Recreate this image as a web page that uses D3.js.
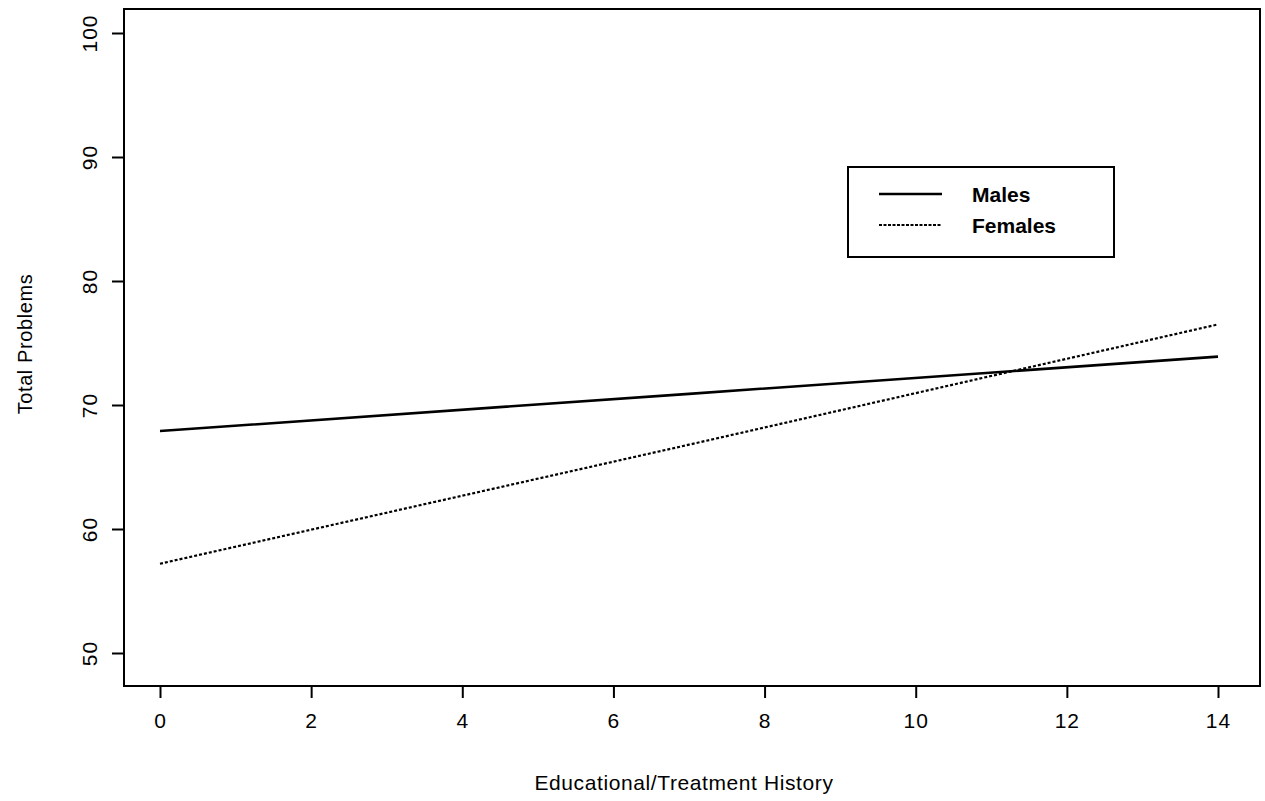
<!DOCTYPE html>
<html>
<head>
<meta charset="utf-8">
<script src="https://cdn.jsdelivr.net/npm/d3@7"></script>
<style>
  html, body { margin: 0; padding: 0; background: #fff; }
  svg { display: block; }
  text { font-family: "Liberation Sans", Arial, sans-serif; fill: #000; }
</style>
</head>
<body>
<svg id="chart" width="1265" height="801"></svg>
<script>
// ---- data ----
const xTicks = [0, 2, 4, 6, 8, 10, 12, 14];
const yTicks = [50, 60, 70, 80, 90, 100];
const historyX = [0, 7, 14];
const malesY = [67.9, 70.9, 73.9];
const femalesY = [57.2, 66.8, 76.5];
const seriesNames = ["Males", "Females"];
const xTitle = "Educational/Treatment History";
const yTitle = "Total Problems";

// ---- layout ----
const svg = d3.select("#chart");
const box = { left: 124, top: 9, right: 1260, bottom: 686 };

const x = d3.scaleLinear().domain([0, 14]).range([160, 1218]);
const y = d3.scaleLinear().domain([50, 100]).range([653, 33]);

// plot frame
svg.append("rect")
  .attr("x", box.left).attr("y", box.top)
  .attr("width", box.right - box.left).attr("height", box.bottom - box.top)
  .attr("fill", "none").attr("stroke", "#000").attr("stroke-width", 2);

// x axis
const xAxis = d3.axisBottom(x).tickValues(xTicks).tickSize(12).tickPadding(15)
  .tickFormat(d3.format("d"));
const gx = svg.append("g").attr("transform", `translate(0,${box.bottom})`).call(xAxis);
gx.select(".domain").remove();
gx.selectAll(".tick line").attr("stroke", "#000").attr("stroke-width", 2);
gx.selectAll(".tick text").attr("font-size", 21).attr("letter-spacing", 1)
  .attr("font-family", "Liberation Sans, Arial, sans-serif");

// y axis
const yAxis = d3.axisLeft(y).tickValues(yTicks).tickSize(12).tickPadding(0)
  .tickFormat(d3.format("d"));
const gy = svg.append("g").attr("transform", `translate(${box.left},0)`).call(yAxis);
gy.select(".domain").remove();
gy.selectAll(".tick line").attr("stroke", "#000").attr("stroke-width", 2);
gy.selectAll(".tick text")
  .attr("font-size", 21).attr("letter-spacing", 1)
  .attr("font-family", "Liberation Sans, Arial, sans-serif")
  .attr("x", 0).attr("dy", 0)
  .attr("text-anchor", "middle")
  .attr("transform", "translate(-27,0) rotate(-90)");

// axis titles
svg.append("text")
  .attr("x", 684).attr("y", 790)
  .attr("text-anchor", "middle").attr("font-size", 21).attr("letter-spacing", 0.6)
  .text(xTitle);
svg.append("text")
  .attr("transform", `translate(32,${344}) rotate(-90)`)
  .attr("text-anchor", "middle").attr("font-size", 20).attr("letter-spacing", 0.6)
  .text(yTitle);

// lines
const line = d3.line().x(d => x(d[0])).y(d => y(d[1]));
svg.append("path")
  .datum(historyX.map((v, i) => [v, malesY[i]]))
  .attr("d", line).attr("fill", "none").attr("stroke", "#000").attr("stroke-width", 2.6);
svg.append("path")
  .datum(historyX.map((v, i) => [v, femalesY[i]]))
  .attr("d", line).attr("fill", "none").attr("stroke", "#000").attr("stroke-width", 2.2)
  .attr("stroke-dasharray", "3,2");

// legend
const lg = svg.append("g");
lg.append("rect").attr("x", 848).attr("y", 167).attr("width", 266).attr("height", 90)
  .attr("fill", "#fff").attr("stroke", "#000").attr("stroke-width", 2);
const dashes = [null, "3,1.5"];
const widths = [2.5, 1.8];
seriesNames.forEach((name, i) => {
  const yy = 194 + i * 31;
  lg.append("line").attr("x1", 879).attr("x2", 942).attr("y1", yy).attr("y2", yy)
    .attr("stroke", "#000").attr("stroke-width", widths[i])
    .attr("stroke-dasharray", dashes[i]);
  lg.append("text").attr("x", 972).attr("y", yy + 8).attr("font-size", 21)
    .attr("font-weight", "bold").text(name);
});
</script>
</body>
</html>
